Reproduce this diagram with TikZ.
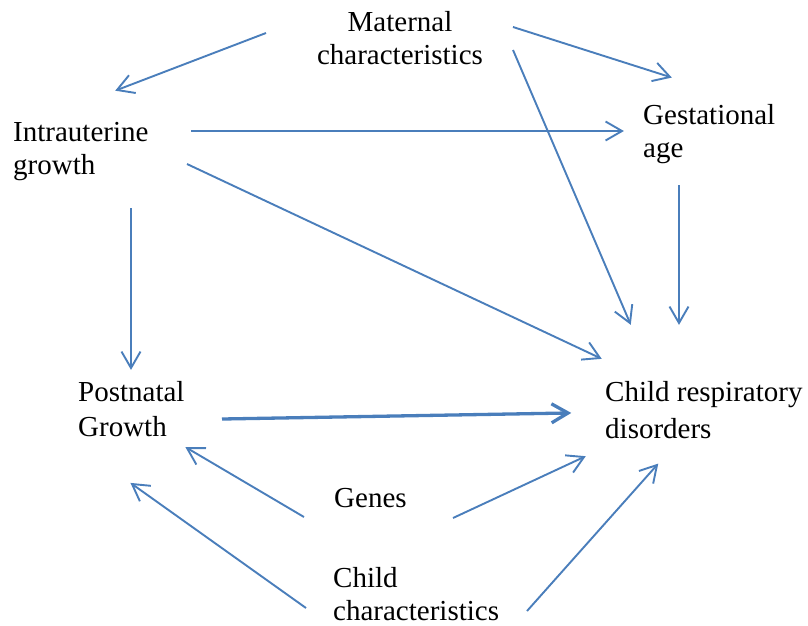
\documentclass[tikz,border=0pt]{standalone}
\usepackage{fontspec}
\setmainfont{Liberation Serif}
\usetikzlibrary{calc}
\definecolor{ablue}{RGB}{74,126,187}
\newcommand{\lines}[1]{\begin{tabular}[t]{@{}l@{}}#1\end{tabular}}
% connector with an open V head drawn at its end
\newcommand{\conn}[3][]{%
  \draw[link,#1] (#2) -- (#3);
  \draw[link,#1] ($(#3)!19pt!30:(#2)$) -- (#3) -- ($(#3)!19pt!-30:(#2)$);}
\begin{document}
\begin{tikzpicture}[x=1pt,y=-1pt,
  lbl/.style={inner sep=0pt,anchor=base west,font=\fontsize{29}{33}\selectfont},
  link/.style={draw=ablue,line width=1.9pt,line join=miter},
  thicklink/.style={line width=3.3pt}]
\useasboundingbox (0,0) rectangle (808,625);
\node[lbl,anchor=base] (mat) at (400,31) {\begin{tabular}[t]{@{}c@{}}Maternal\\characteristics\end{tabular}};
\node[lbl] (iu) at (13,141) {\lines{Intrauterine\\growth}};
\node[lbl] (ga) at (643,124) {\lines{Gestational\\age}};
\node[lbl] (pn) at (78,401) {\lines{Postnatal\\[2pt]Growth}};
\node[lbl] (cr) at (605,401) {\lines{Child respiratory\\[4pt]disorders}};
\node[lbl] (gn) at (334,507) {Genes};
\node[lbl] (cc) at (333,587) {\lines{Child\\characteristics}};
% connector end points
\coordinate (matA) at (266,33);  \coordinate (iuA) at (117,90);
\coordinate (matB) at (513,27);  \coordinate (gaA) at (670,77);
\coordinate (matC) at (513,50);  \coordinate (crA) at (630,323);
\coordinate (iuB) at (191,131);  \coordinate (gaB) at (622,131);
\coordinate (iuC) at (187,164);  \coordinate (crB) at (600,358);
\coordinate (iuD) at (131,208);  \coordinate (pnA) at (131,368);
\coordinate (gaC) at (679,185);  \coordinate (crC) at (679,323);
\coordinate (pnB) at (222,419);  \coordinate (crD) at (568,413);
\coordinate (gnA) at (304,517);  \coordinate (pnC) at (187,448);
\coordinate (gnB) at (453,518);  \coordinate (crE) at (584,457);
\coordinate (ccA) at (306,608);  \coordinate (pnD) at (132,484);
\coordinate (ccB) at (527,611);  \coordinate (crF) at (657,465);
\conn{matA}{iuA}
\conn{matB}{gaA}
\conn{matC}{crA}
\conn{iuB}{gaB}
\conn{iuC}{crB}
\conn{iuD}{pnA}
\conn{gaC}{crC}
\conn[thicklink]{pnB}{crD}
\conn{gnA}{pnC}
\conn{gnB}{crE}
\conn{ccA}{pnD}
\conn{ccB}{crF}
\end{tikzpicture}
\end{document}
